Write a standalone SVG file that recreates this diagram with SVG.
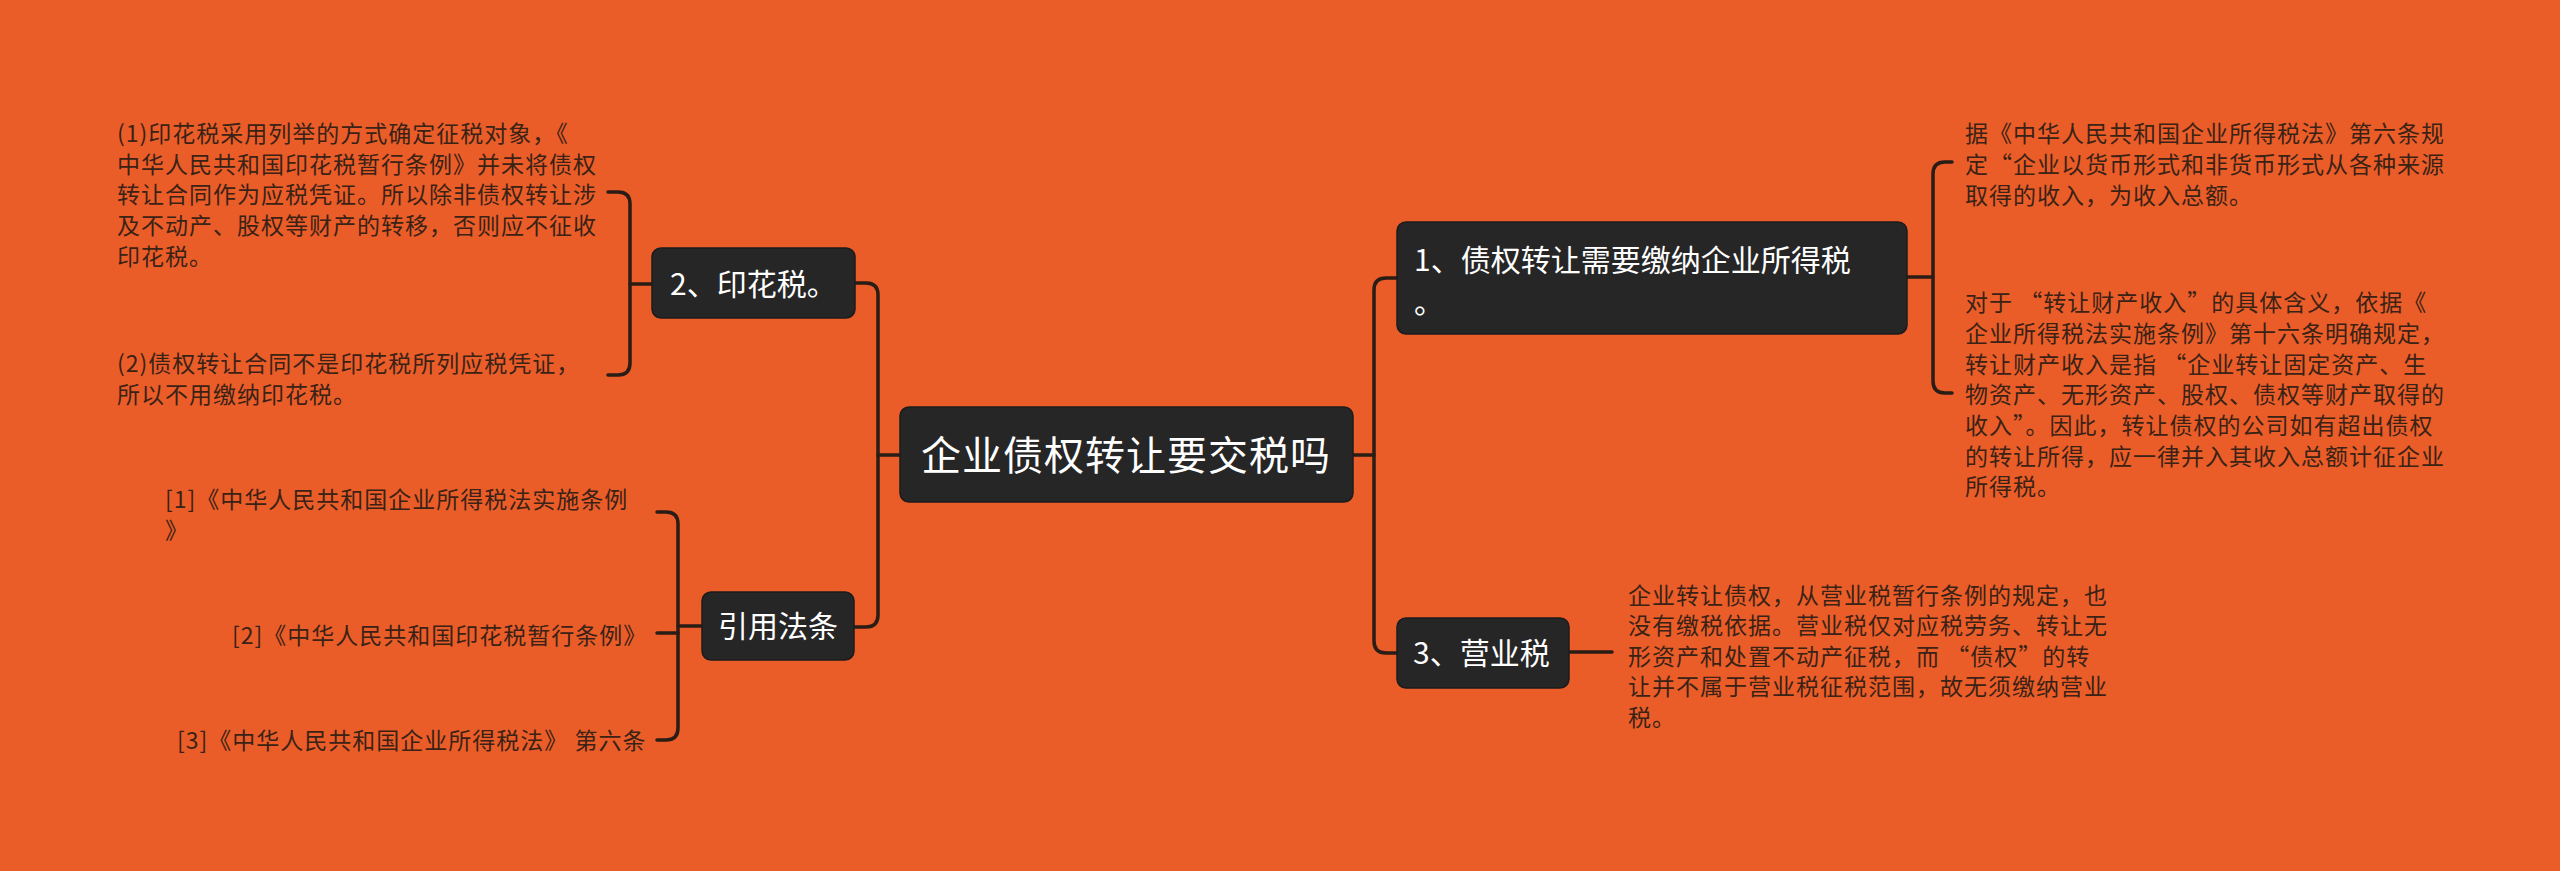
<svg xmlns="http://www.w3.org/2000/svg" width="2560" height="871" viewBox="0 0 2560 871">
<style>
.bg{fill:#EA5D28}
.box{fill:#262626;stroke:#1c1c1c;stroke-width:1.5}
.nt{fill:#ffffff;font-family:"Noto Sans CJK SC","Noto Sans",sans-serif;font-size:30px}
.mt{fill:#ffffff;font-family:"Noto Sans CJK SC","Noto Sans",sans-serif;font-size:40px;letter-spacing:1px}
.lt{fill:#3a2216;font-family:"Noto Sans CJK SC","Noto Sans",sans-serif;font-size:23px;letter-spacing:1px}
.cn{fill:none;stroke:#2a1d16;stroke-width:3.5;stroke-linecap:round;stroke-linejoin:round}
</style>
<rect class="bg" x="0" y="0" width="2560" height="871"/>
<g id="connectors" class="cn">
<path d="M 900 455 H 878"/>
<path d="M 855 283 H 866 Q 878 283 878 295 V 615 Q 878 627 866 627 H 854"/>
<path d="M 1353 455 H 1374"/>
<path d="M 1398 278 H 1386 Q 1374 278 1374 290 V 641 Q 1374 653 1386 653 H 1398"/>
<path d="M 1569 652 H 1612"/>
<path d="M 1907 277 H 1933"/>
<path d="M 1952 162 H 1945 Q 1933 162 1933 174 V 381 Q 1933 393 1945 393 H 1952"/>
<path d="M 652 284 H 630"/>
<path d="M 608 192 H 618 Q 630 192 630 204 V 363 Q 630 375 618 375 H 608"/>
<path d="M 702 626 H 678"/>
<path d="M 657 512 H 666 Q 678 512 678 524 V 728 Q 678 740 666 740 H 657"/>
<path d="M 657 633 H 678"/>
</g>
<g id="root">
<rect class="box" x="900" y="407" width="453" height="95" rx="9"/>
<text class="mt" x="1126" y="470" text-anchor="middle">企业债权转让要交税吗</text>
</g>
<g id="n1">
<rect class="box" x="1397" y="222" width="510" height="112" rx="9"/>
<text class="nt" x="1414" y="271">1、债权转让需要缴纳企业所得税</text>
<text class="nt" x="1414" y="313">。</text>
</g>
<g id="n1a">
<text class="lt" x="1965" y="142">据《中华人民共和国企业所得税法》第六条规</text>
<text class="lt" x="1965" y="173">定“企业以货币形式和非货币形式从各种来源</text>
<text class="lt" x="1965" y="204">取得的收入，为收入总额。</text>
</g>
<g id="n1b">
<text class="lt" x="1965" y="311">对于 “转让财产收入”的具体含义，依据《</text>
<text class="lt" x="1965" y="342">企业所得税法实施条例》第十六条明确规定，</text>
<text class="lt" x="1965" y="373">转让财产收入是指 “企业转让固定资产、生</text>
<text class="lt" x="1965" y="403">物资产、无形资产、股权、债权等财产取得的</text>
<text class="lt" x="1965" y="434">收入”。因此，转让债权的公司如有超出债权</text>
<text class="lt" x="1965" y="465">的转让所得，应一律并入其收入总额计征企业</text>
<text class="lt" x="1965" y="495">所得税。</text>
</g>
<g id="n3">
<rect class="box" x="1397" y="618" width="172" height="70" rx="9"/>
<text class="nt" x="1413" y="664">3、营业税</text>
</g>
<g id="n3a">
<text class="lt" x="1628" y="604">企业转让债权，从营业税暂行条例的规定，也</text>
<text class="lt" x="1628" y="634">没有缴税依据。营业税仅对应税劳务、转让无</text>
<text class="lt" x="1628" y="665">形资产和处置不动产征税，而 “债权”的转</text>
<text class="lt" x="1628" y="695">让并不属于营业税征税范围，故无须缴纳营业</text>
<text class="lt" x="1628" y="726">税。</text>
</g>
<g id="n2">
<rect class="box" x="652" y="248" width="203" height="70" rx="9"/>
<text class="nt" x="670" y="295">2、印花税。</text>
</g>
<g id="n2a">
<text class="lt" x="117" y="142">(1)印花税采用列举的方式确定征税对象，《</text>
<text class="lt" x="117" y="173">中华人民共和国印花税暂行条例》并未将债权</text>
<text class="lt" x="117" y="203">转让合同作为应税凭证。所以除非债权转让涉</text>
<text class="lt" x="117" y="234">及不动产、股权等财产的转移，否则应不征收</text>
<text class="lt" x="117" y="265">印花税。</text>
</g>
<g id="n2b">
<text class="lt" x="117" y="372">(2)债权转让合同不是印花税所列应税凭证，</text>
<text class="lt" x="117" y="403">所以不用缴纳印花税。</text>
</g>
<g id="n4">
<rect class="box" x="702" y="592" width="152" height="68" rx="9"/>
<text class="nt" x="718" y="637">引用法条</text>
</g>
<g id="r1">
<text class="lt" x="165" y="508">[1]《中华人民共和国企业所得税法实施条例</text>
<text class="lt" x="165" y="539">》</text>
</g>
<g id="r2">
<text class="lt" x="232" y="644">[2]《中华人民共和国印花税暂行条例》</text>
</g>
<g id="r3">
<text class="lt" x="177" y="749">[3]《中华人民共和国企业所得税法》 第六条</text>
</g>
</svg>
